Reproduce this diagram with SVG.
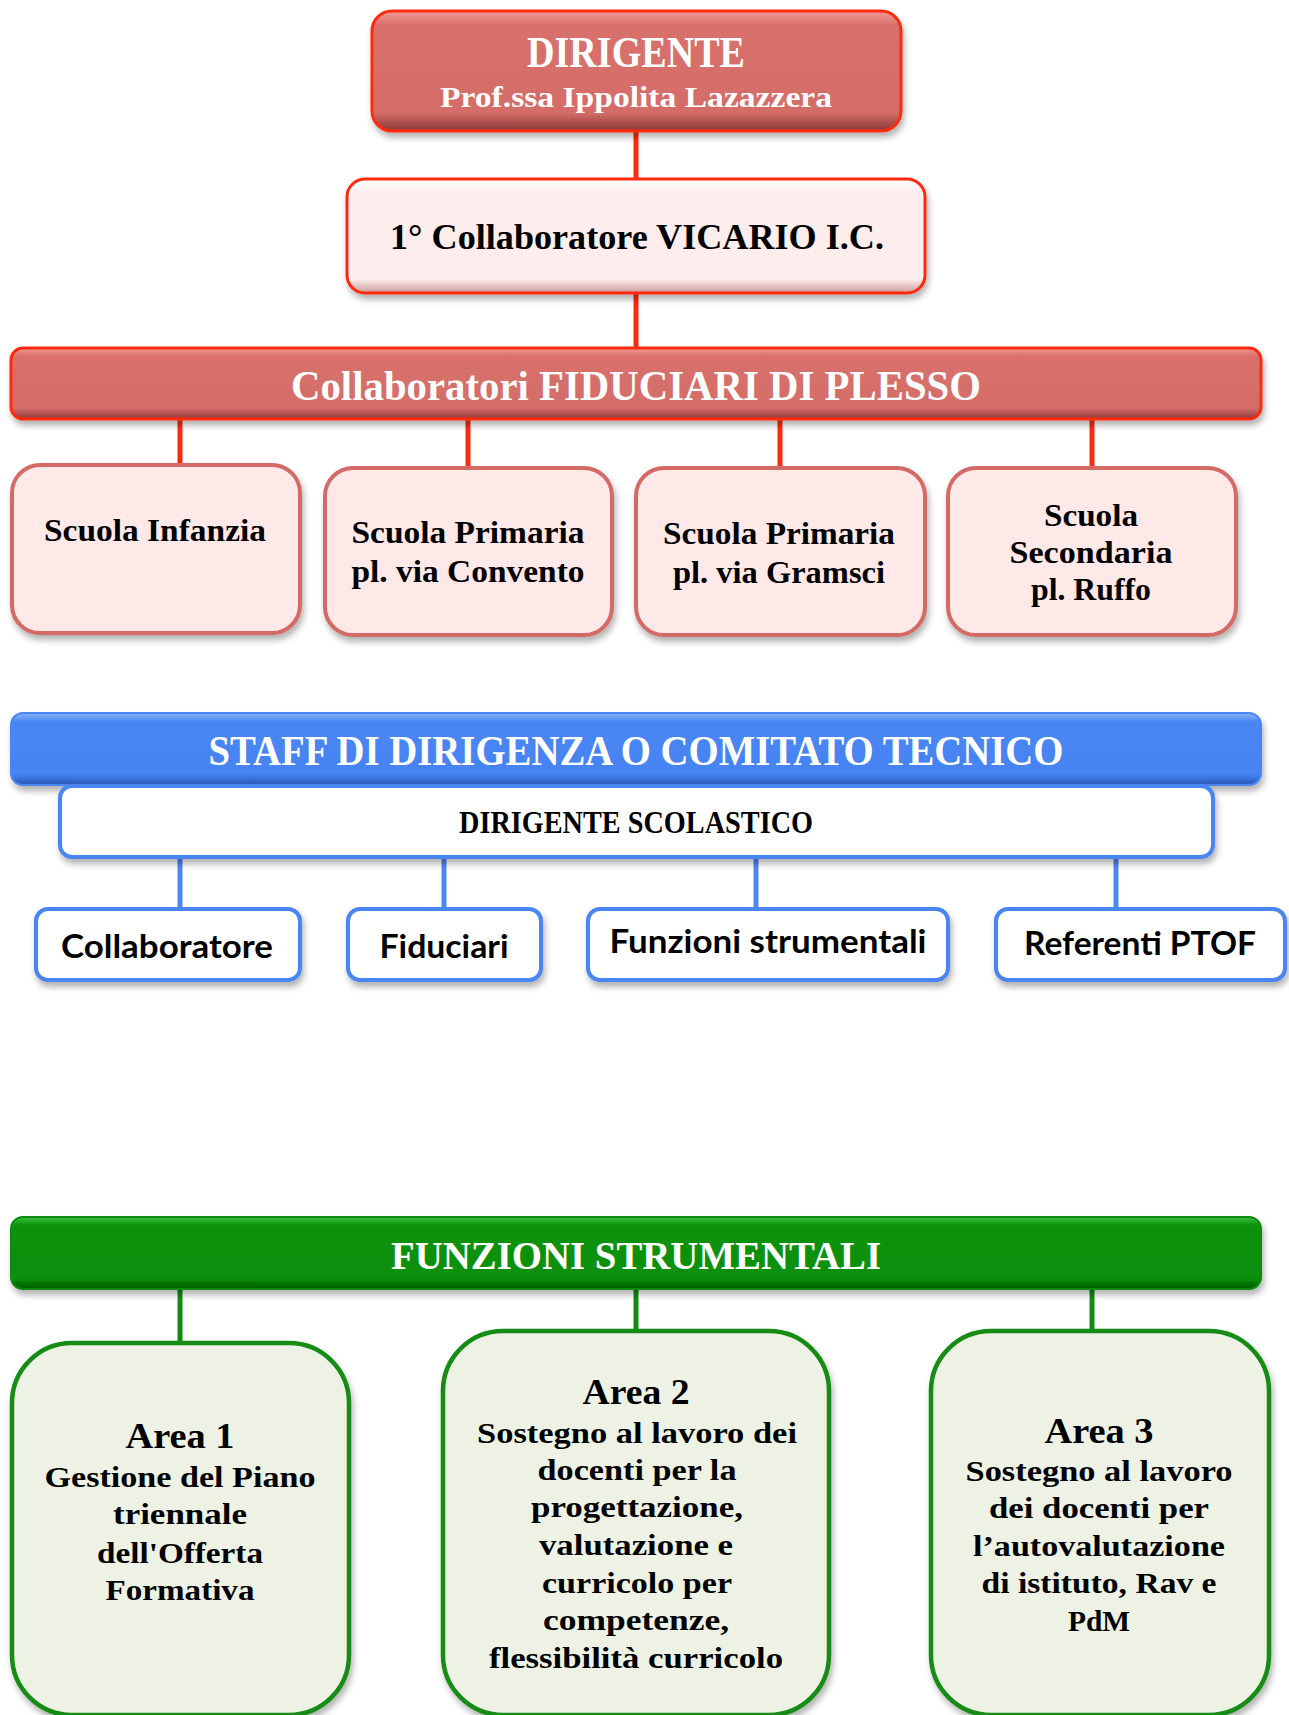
<svg xmlns="http://www.w3.org/2000/svg" width="1289" height="1715" viewBox="0 0 1289 1715">
<defs>
  <filter id="sh" x="-10%" y="-20%" width="120%" height="150%">
    <feDropShadow dx="2" dy="5" stdDeviation="3" flood-color="#000" flood-opacity="0.3"/>
  </filter>
  <linearGradient id="gRed" x1="0" y1="0" x2="0" y2="1">
    <stop offset="0" stop-color="#F29A95"/>
    <stop offset="0.12" stop-color="#D8716C"/>
    <stop offset="0.85" stop-color="#D46C68"/>
    <stop offset="1" stop-color="#8A3836"/>
  </linearGradient>
  <linearGradient id="gPink" x1="0" y1="0" x2="0" y2="1">
    <stop offset="0" stop-color="#FFFFFF"/>
    <stop offset="0.12" stop-color="#FDEDEC"/>
    <stop offset="0.88" stop-color="#FDEDEC"/>
    <stop offset="1" stop-color="#C89A98"/>
  </linearGradient>
  <linearGradient id="gBlue" x1="0" y1="0" x2="0" y2="1">
    <stop offset="0" stop-color="#8DB5FA"/>
    <stop offset="0.12" stop-color="#4A86F4"/>
    <stop offset="0.85" stop-color="#4683F2"/>
    <stop offset="1" stop-color="#2A57B5"/>
  </linearGradient>
  <linearGradient id="gGreen" x1="0" y1="0" x2="0" y2="1">
    <stop offset="0" stop-color="#40C040"/>
    <stop offset="0.12" stop-color="#0A920A"/>
    <stop offset="0.85" stop-color="#089008"/>
    <stop offset="1" stop-color="#035A03"/>
  </linearGradient>
  <style>
    .serif { font-family: "Liberation Serif", "DejaVu Serif", serif; font-weight: bold; text-anchor: middle; }
    .sans { font-family: Lato, "Liberation Sans", sans-serif; font-weight: bold; text-anchor: middle; fill: #000; }
    .wt { fill: #FFFFFF; }
    .bk { fill: #000000; }
    .cr { stroke: #FF2A10; stroke-width: 5; fill: none; }
    .cb { stroke: #4A86F4; stroke-width: 5; fill: none; }
    .cg { stroke: #108C10; stroke-width: 5; fill: none; }
    .redbox { fill: url(#gRed); stroke: #FF2A10; stroke-width: 3; filter: url(#sh); }
    .pinkbox { fill: url(#gPink); stroke: #FF2A10; stroke-width: 3; filter: url(#sh); }
    .school { fill: #FFE8E8; stroke: #D46A66; stroke-width: 4; filter: url(#sh); }
    .bluebar { fill: url(#gBlue); stroke: #4A86F4; stroke-width: 2; filter: url(#sh); }
    .bluebox { fill: #FFFFFF; stroke: #4A86F4; stroke-width: 4; filter: url(#sh); }
    .greenbar { fill: url(#gGreen); stroke: #0A8A0A; stroke-width: 2; filter: url(#sh); }
    .area { fill: #EEF2E4; stroke: #148C14; stroke-width: 4.5; filter: url(#sh); }
  </style>
</defs>
<rect width="1289" height="1715" fill="#FFFFFF"/>

<g id="connectors">
  <line class="cr" x1="636" y1="131" x2="636" y2="180"/>
  <line class="cr" x1="636" y1="293" x2="636" y2="348"/>
  <line class="cr" x1="180" y1="418" x2="180" y2="466"/>
  <line class="cr" x1="468" y1="418" x2="468" y2="469"/>
  <line class="cr" x1="780" y1="418" x2="780" y2="469"/>
  <line class="cr" x1="1092" y1="418" x2="1092" y2="469"/>
  <line class="cb" x1="180" y1="857" x2="180" y2="909"/>
  <line class="cb" x1="444" y1="857" x2="444" y2="909"/>
  <line class="cb" x1="756" y1="857" x2="756" y2="909"/>
  <line class="cb" x1="1116" y1="857" x2="1116" y2="909"/>
  <line class="cg" x1="180" y1="1282" x2="180" y2="1344"/>
  <line class="cg" x1="636" y1="1280" x2="636" y2="1332"/>
  <line class="cg" x1="1092" y1="1280" x2="1092" y2="1332"/>
</g>

<g id="dirigente">
  <rect class="redbox" x="372" y="11" width="529" height="120" rx="20"/>
  <text class="serif wt" x="636" y="67" font-size="44" textLength="218" lengthAdjust="spacingAndGlyphs">DIRIGENTE</text>
  <text class="serif wt" x="636" y="107" font-size="30" textLength="392" lengthAdjust="spacingAndGlyphs">Prof.ssa Ippolita Lazazzera</text>
</g>

<g id="vicario">
  <rect class="pinkbox" x="347" y="179" width="578" height="114" rx="18"/>
  <text class="serif bk" x="637" y="249" font-size="35" textLength="494" lengthAdjust="spacingAndGlyphs">1° Collaboratore VICARIO I.C.</text>
</g>

<g id="fiduciari-bar">
  <rect class="redbox" x="11" y="348" width="1250" height="71" rx="12"/>
  <text class="serif wt" x="636" y="400" font-size="42" textLength="690" lengthAdjust="spacingAndGlyphs">Collaboratori FIDUCIARI DI PLESSO</text>
</g>

<g id="scuola-infanzia">
  <rect class="school" x="12" y="465" width="288" height="168" rx="28"/>
  <text class="serif bk" x="155" y="541" font-size="31" textLength="222" lengthAdjust="spacingAndGlyphs">Scuola Infanzia</text>
</g>

<g id="primaria-convento">
  <rect class="school" x="325" y="468" width="287" height="167" rx="28"/>
  <text class="serif bk" x="468" y="543" font-size="31" textLength="233" lengthAdjust="spacingAndGlyphs">Scuola Primaria</text>
  <text class="serif bk" x="468" y="582" font-size="31" textLength="233" lengthAdjust="spacingAndGlyphs">pl. via Convento</text>
</g>

<g id="primaria-gramsci">
  <rect class="school" x="636" y="468" width="289" height="167" rx="28"/>
  <text class="serif bk" x="779" y="544" font-size="31" textLength="232" lengthAdjust="spacingAndGlyphs">Scuola Primaria</text>
  <text class="serif bk" x="779" y="583" font-size="31" textLength="212" lengthAdjust="spacingAndGlyphs">pl. via Gramsci</text>
</g>

<g id="secondaria-ruffo">
  <rect class="school" x="948" y="468" width="288" height="167" rx="28"/>
  <text class="serif bk" x="1091" y="526" font-size="31" textLength="94" lengthAdjust="spacingAndGlyphs">Scuola</text>
  <text class="serif bk" x="1091" y="563" font-size="31" textLength="163" lengthAdjust="spacingAndGlyphs">Secondaria</text>
  <text class="serif bk" x="1091" y="600" font-size="31" textLength="120" lengthAdjust="spacingAndGlyphs">pl. Ruffo</text>
</g>

<g id="staff-bar">
  <rect class="bluebar" x="11" y="713" width="1250" height="72" rx="12"/>
  <text class="serif wt" x="636" y="765" font-size="43" textLength="855" lengthAdjust="spacingAndGlyphs">STAFF DI DIRIGENZA O COMITATO TECNICO</text>
</g>

<g id="dirigente-scolastico">
  <rect class="bluebox" x="60" y="786" width="1153" height="71" rx="12"/>
  <text class="serif bk" x="636" y="833" font-size="31" textLength="354" lengthAdjust="spacingAndGlyphs">DIRIGENTE SCOLASTICO</text>
</g>

<g id="collaboratore">
  <rect class="bluebox" x="36" y="909" width="264" height="71" rx="12"/>
  <text class="sans" x="167" y="958" font-size="33" textLength="212" lengthAdjust="spacingAndGlyphs">Collaboratore</text>
</g>

<g id="fiduciari">
  <rect class="bluebox" x="348" y="909" width="193" height="71" rx="12"/>
  <text class="sans" x="444" y="958" font-size="33" textLength="129" lengthAdjust="spacingAndGlyphs">Fiduciari</text>
</g>

<g id="funzioni-strumentali-box">
  <rect class="bluebox" x="588" y="909" width="360" height="71" rx="12"/>
  <text class="sans" x="768" y="953" font-size="33" textLength="317" lengthAdjust="spacingAndGlyphs">Funzioni strumentali</text>
</g>

<g id="referenti-ptof">
  <rect class="bluebox" x="996" y="909" width="289" height="71" rx="12"/>
  <text class="sans" x="1140" y="955" font-size="33" textLength="232" lengthAdjust="spacingAndGlyphs">Referenti PTOF</text>
</g>

<g id="funzioni-bar">
  <rect class="greenbar" x="11" y="1217" width="1250" height="72" rx="12"/>
  <text class="serif wt" x="636" y="1269" font-size="39" textLength="490" lengthAdjust="spacingAndGlyphs">FUNZIONI STRUMENTALI</text>
</g>

<g id="area1">
  <rect class="area" x="12" y="1343" width="337" height="372" rx="60"/>
  <text class="serif bk" x="180" y="1448" font-size="36" textLength="109" lengthAdjust="spacingAndGlyphs">Area 1</text>
  <text class="serif bk" x="180" y="1487" font-size="30" textLength="271" lengthAdjust="spacingAndGlyphs">Gestione del Piano</text>
  <text class="serif bk" x="180" y="1524" font-size="30" textLength="134" lengthAdjust="spacingAndGlyphs">triennale</text>
  <text class="serif bk" x="180" y="1563" font-size="30" textLength="166" lengthAdjust="spacingAndGlyphs">dell'Offerta</text>
  <text class="serif bk" x="180" y="1600" font-size="30" textLength="149" lengthAdjust="spacingAndGlyphs">Formativa</text>
</g>

<g id="area2">
  <rect class="area" x="443" y="1331" width="386" height="384" rx="60"/>
  <text class="serif bk" x="636" y="1404" font-size="36" textLength="107" lengthAdjust="spacingAndGlyphs">Area 2</text>
  <text class="serif bk" x="637" y="1443" font-size="30" textLength="320" lengthAdjust="spacingAndGlyphs">Sostegno al lavoro dei</text>
  <text class="serif bk" x="637" y="1480" font-size="30" textLength="199" lengthAdjust="spacingAndGlyphs">docenti per la</text>
  <text class="serif bk" x="637" y="1517" font-size="30" textLength="212" lengthAdjust="spacingAndGlyphs">progettazione,</text>
  <text class="serif bk" x="636" y="1555" font-size="30" textLength="194" lengthAdjust="spacingAndGlyphs">valutazione e</text>
  <text class="serif bk" x="637" y="1593" font-size="30" textLength="190" lengthAdjust="spacingAndGlyphs">curricolo per</text>
  <text class="serif bk" x="636" y="1630" font-size="30" textLength="186" lengthAdjust="spacingAndGlyphs">competenze,</text>
  <text class="serif bk" x="636" y="1668" font-size="30" textLength="294" lengthAdjust="spacingAndGlyphs">flessibilità curricolo</text>
</g>

<g id="area3">
  <rect class="area" x="931" y="1331" width="338" height="384" rx="60"/>
  <text class="serif bk" x="1099" y="1443" font-size="36" textLength="109" lengthAdjust="spacingAndGlyphs">Area 3</text>
  <text class="serif bk" x="1099" y="1481" font-size="30" textLength="267" lengthAdjust="spacingAndGlyphs">Sostegno al lavoro</text>
  <text class="serif bk" x="1099" y="1518" font-size="30" textLength="220" lengthAdjust="spacingAndGlyphs">dei docenti per</text>
  <text class="serif bk" x="1099" y="1556" font-size="30" textLength="252" lengthAdjust="spacingAndGlyphs">l’autovalutazione</text>
  <text class="serif bk" x="1099" y="1593" font-size="30" textLength="235" lengthAdjust="spacingAndGlyphs">di istituto, Rav e</text>
  <text class="serif bk" x="1099" y="1631" font-size="30" textLength="62" lengthAdjust="spacingAndGlyphs">PdM</text>
</g>
</svg>
